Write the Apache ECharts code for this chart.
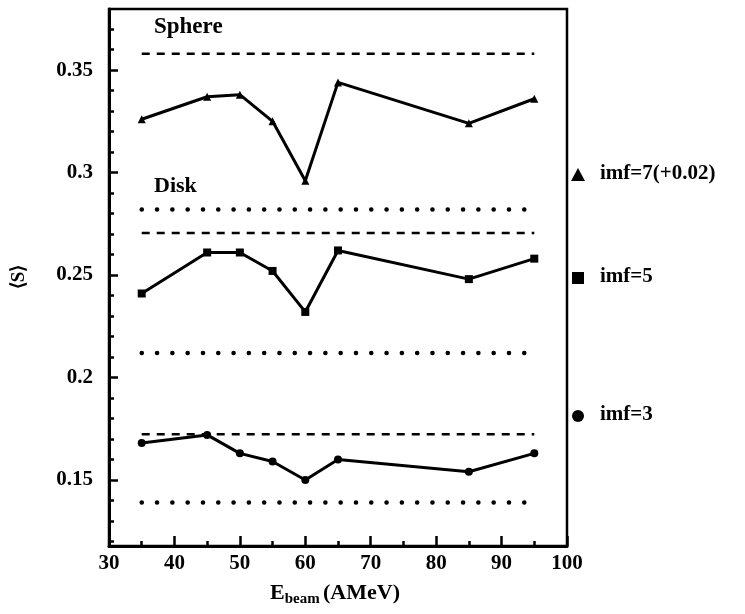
<!DOCTYPE html>
<html>
<head>
<meta charset="utf-8">
<script src="https://cdn.jsdelivr.net/npm/echarts@6/dist/echarts.min.js"></script>
<style>
  html, body { margin: 0; padding: 0; background: #fff; }
  #chart { width: 745px; height: 614px; }
</style>
</head>
<body>
<div id="chart"></div>
<script>
// Beam energies (AMeV)
const beamEnergy = [35, 45, 50, 55, 60, 65, 85, 95];
// <S> for each fragment multiplicity class (imf=7 shifted by +0.02)
const imf7 = [0.326, 0.337, 0.338, 0.325, 0.296, 0.344, 0.324, 0.336];
const imf5 = [0.241, 0.261, 0.261, 0.252, 0.232, 0.262, 0.248, 0.258];
const imf3 = [0.168, 0.172, 0.163, 0.159, 0.150, 0.160, 0.154, 0.163];
// Reference levels for imf = 3, 5, 7
const sphereRef = [0.1723, 0.2705, 0.358];
const diskRef = [0.139, 0.212, 0.282];
const refSpan = [35, 95];
// Axis ticks
const yMajorTicks = [0.15, 0.2, 0.25, 0.3, 0.35];
const yMinorTicks = [0.12, 0.13, 0.14, 0.16, 0.17, 0.18, 0.19, 0.21, 0.22, 0.23, 0.24,
                     0.26, 0.27, 0.28, 0.29, 0.31, 0.32, 0.33, 0.34, 0.36, 0.37];

const FONT = '"Liberation Serif", "Times New Roman", serif';
const chart = echarts.init(document.getElementById('chart'), null, { renderer: 'canvas' });

function dataLine(values, symbol, size) {
  return {
    type: 'line',
    data: beamEnergy.map((x, i) => [x, values[i]]),
    symbol: symbol,
    symbolSize: size,
    itemStyle: { color: '#000' },
    lineStyle: { color: '#000', width: 3 },
    z: 5,
    animation: false
  };
}
function refLine(v, dash, width, cap) {
  return {
    type: 'line',
    data: refSpan.map(x => [x, v]),
    symbol: 'none',
    lineStyle: { color: '#000', width: width, type: dash, cap: cap },
    z: 3,
    animation: false
  };
}

const series = [
  dataLine(imf7, 'triangle', 8),
  dataLine(imf5, 'rect', 8),
  dataLine(imf3, 'circle', 8)
];
sphereRef.forEach(v => series.push(refLine(v, [8, 7], 2.5, 'butt')));
diskRef.forEach(v => series.push(refLine(v, [0.1, 15.2], 4.5, 'round')));

const yMin = 0.1178, yMax = 0.3798;

chart.setOption({
  animation: false,
  backgroundColor: '#fff',
  grid: {
    left: 109, right: 178, top: 9, bottom: 68,
    show: true, borderColor: '#000', borderWidth: 2.5
  },
  xAxis: {
    type: 'value', min: 30, max: 100, interval: 10,
    axisLine: { lineStyle: { color: '#000', width: 3 } },
    axisTick: { inside: true, length: 10, lineStyle: { color: '#000', width: 2.5 } },
    minorTick: { show: true, splitNumber: 2, length: 5, lineStyle: { color: '#000', width: 2.5 } },
    splitLine: { show: false },
    axisLabel: { color: '#000', fontFamily: FONT, fontWeight: 'bold', fontSize: 21, margin: 7 }
  },
  yAxis: [
    {
      type: 'value', min: yMin, max: yMax,
      axisLine: { show: true, lineStyle: { color: '#000', width: 3 } },
      axisTick: { show: true, inside: true, length: 9, customValues: yMajorTicks,
                  lineStyle: { color: '#000', width: 2.5 } },
      splitLine: { show: false },
      axisLabel: {
        customValues: yMajorTicks, color: '#000', fontFamily: FONT, fontWeight: 'bold',
        fontSize: 21, margin: 16,
        formatter: v => String(Math.round(v * 100) / 100)
      }
    },
    {
      type: 'value', min: yMin, max: yMax, position: 'left',
      axisLine: { show: false },
      axisTick: { show: true, inside: true, length: 5, customValues: yMinorTicks,
                  lineStyle: { color: '#000', width: 2.5 } },
      splitLine: { show: false },
      axisLabel: { show: false }
    }
  ],
  series: series,
  graphic: [
    { type: 'text', left: 154, top: 16,
      style: { text: 'Sphere', font: 'bold 23px ' + FONT, fill: '#000' } },
    { type: 'text', left: 154, top: 175,
      style: { text: 'Disk', font: 'bold 22px ' + FONT, fill: '#000' } },
    // legend
    { type: 'polygon', shape: { points: [[578, 168], [571, 181], [585, 181]] },
      style: { fill: '#000' } },
    { type: 'text', left: 600, top: 163,
      style: { text: 'imf=7(+0.02)', font: 'bold 21px ' + FONT, fill: '#000' } },
    { type: 'rect', shape: { x: 572, y: 272, width: 12, height: 12 }, style: { fill: '#000' } },
    { type: 'text', left: 600, top: 266,
      style: { text: 'imf=5', font: 'bold 21px ' + FONT, fill: '#000' } },
    { type: 'circle', shape: { cx: 578, cy: 416, r: 6 }, style: { fill: '#000' } },
    { type: 'text', left: 600, top: 404,
      style: { text: 'imf=3', font: 'bold 21px ' + FONT, fill: '#000' } },
    // axis titles
    { type: 'text', x: 19, y: 277, rotation: Math.PI / 2,
      style: { text: '\u27E8S\u27E9', font: 'bold 19px ' + FONT, fill: '#000',
               align: 'center', verticalAlign: 'middle' } },
    { type: 'text', left: 270, top: 582,
      style: {
        text: '{e|E}{s|beam} {e|(AMeV)}',
        rich: {
          e: { font: 'bold 22px ' + FONT, color: '#000' },
          s: { font: 'bold 15px ' + FONT, color: '#000', padding: [12, 0, 0, 0] }
        }
      } }
  ]
});
</script>
</body>
</html>
